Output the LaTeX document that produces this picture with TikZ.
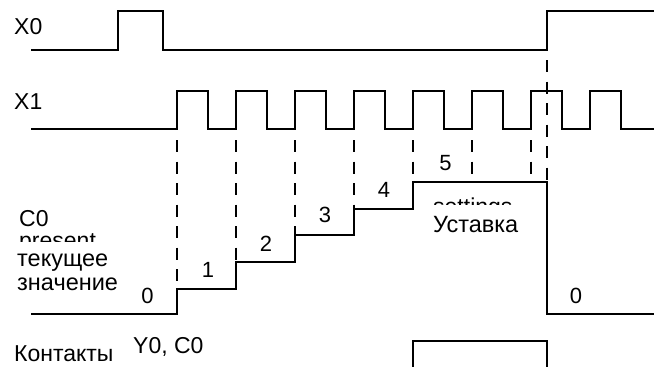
\documentclass[tikz,border=0pt]{standalone}
\usepackage{fontspec}
\usepackage{tikz}
\usetikzlibrary{positioning}
\setmainfont{Liberation Sans}

\begin{document}
\begin{tikzpicture}[x=1pt, y=-1pt, line join=miter,
  wave/.style={line width=2.8pt},
  guide/.style={line width=2.8pt, dash pattern=on 12pt off 9.5pt},
  sig/.style={inner sep=0pt, anchor=base west, font=\fontsize{23}{25}\selectfont},
  ru/.style={inner sep=0pt, anchor=base west, font=\fontsize{23.5}{25}\selectfont},
  num/.style={inner sep=0pt, font=\fontsize{22}{24}\selectfont}]

\useasboundingbox (0,0) rectangle (654,367);

\def\lo{129}
\def\hi{91}

% Draw the X0 signal
\draw[wave] (31,50) -- (118,50) -- (118,11) -- (163,11) -- (163,50)
  -- (547,50) -- (547,11) -- (654,11);

% Draw the X1 pulses
\draw[wave] (31,\lo)
  \foreach \t in {177,236,295,354,413,472,531,590} {
    -- (\t,\lo) -- (\t,\hi) -- (\t+31,\hi) -- (\t+31,\lo) }
  -- (654,\lo);

% dashed guides down to the counter
\draw[guide] (177,140) -- (177,289);
\draw[guide] (236,140) -- (236,262);
\draw[guide] (295,140) -- (295,235);
\draw[guide] (354,140) -- (354,209);
\draw[guide] (413,140) -- (413,182);
\draw[guide] (472,140) -- (472,182);
\draw[guide] (531,140) -- (531,182);
\draw[guide] (547,60)  -- (547,182);

% C0 present value
\draw[wave]
  (31,314) -- (177,314) -- (177,289) -- (236,289) -- (236,262)
  -- (295,262) -- (295,235) -- (354,235) -- (354,209) -- (413,209)
  -- (413,182) -- (547,182) -- (547,314) -- (654,314);

% contacts Y0, C0
\draw[wave] (413,367) -- (413,341) -- (547,341) -- (547,367);

% signal names
\node[sig] (x0lbl) at (14,34) {X0};
\node[sig] (x1lbl) at (14,109) {X1};
\node[sig] (c0lbl) at (19,226) {C0};
\begin{scope}
  \clip (0,200) rectangle (150,241);
  \node[sig] (presentlbl) at (19,248) {present};
\end{scope}
\node[ru] (curlbl) at (17,266) {текущее};
\node[ru] (vallbl) at (17,290) {значение};
\begin{scope}
  \clip (420,190) rectangle (540,204);
  \node[sig] (setlbl) at (433,214) {settings};
\end{scope}
\node[ru] (setru) at (433,232) {Уставка};
\node[ru, font=\fontsize{23}{25}\selectfont] (contlbl) at (14,361) {Контакты};
\node[sig] (y0lbl) at (133,353) {Y0, C0};

% counter values
\node[num] (v0)  at (147.5,295.5) {0};
\node[num] (v1)  at (208,270) {1};
\node[num] (v2)  at (266,244) {2};
\node[num] (v3)  at (325,215) {3};
\node[num] (v4)  at (384,190) {4};
\node[num] (v5)  at (445.5,163) {5};
\node[num] (v0b) at (576,296) {0};

\end{tikzpicture}
\end{document}
